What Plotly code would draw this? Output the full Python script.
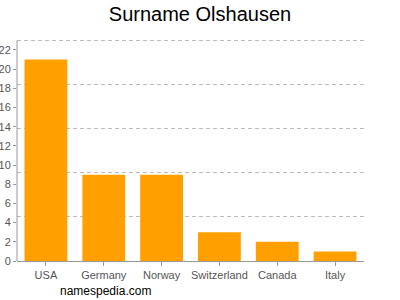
import plotly.graph_objects as go

countries = ["USA", "Germany", "Norway", "Switzerland", "Canada", "Italy"]
counts = [21, 9, 9, 3, 2, 1]
y_tick_vals = list(range(0, 23, 2))
grid_step = 4.6
y_top = 23.25

fig = go.Figure()
fig.add_trace(go.Bar(x=countries, y=counts, marker=dict(color="#ffa000", line=dict(width=0)),
                     hoverinfo="skip"))
# invisible trace to anchor gridline axis
fig.add_trace(go.Scatter(x=countries[:1], y=[0], yaxis="y2", mode="markers",
                         marker=dict(opacity=0), hoverinfo="skip", showlegend=False))

fig.update_layout(
    width=400, height=300,
    margin=dict(l=17, r=36, t=38, b=39),
    paper_bgcolor="white", plot_bgcolor="white",
    showlegend=False,
    bargap=0.26,
    title=dict(text="Surname Olshausen", x=0.5, xanchor="center", y=0.955, yanchor="middle",
               font=dict(family="Liberation Sans, Arial", size=20, color="#000")),
    xaxis=dict(showline=True, linecolor="#999", linewidth=1, ticks="outside", ticklen=4,
               tickcolor="#999", tickfont=dict(family="Liberation Sans, Arial", size=11, color="#555"),
               showgrid=False, fixedrange=True, automargin=False),
    yaxis=dict(range=[0, y_top], tickvals=y_tick_vals, showline=False, linecolor="#999", linewidth=1,
               ticks="outside", ticklen=3, tickcolor="#999", showgrid=False, zeroline=False,
               tickfont=dict(family="Liberation Sans, Arial", size=11, color="#555"),
               fixedrange=True, automargin=False),
    yaxis2=dict(range=[0, y_top], overlaying="y", tickvals=[grid_step * i for i in range(1, 6)],
                showgrid=True, gridcolor="#bbb", griddash="4px,3px", gridwidth=1, showticklabels=False,
                zeroline=False, showline=False, ticks="", fixedrange=True, automargin=False),
    annotations=[dict(text="namespedia.com", xref="paper", yref="paper", x=41/347, y=-30/223,
                      xanchor="left", yanchor="middle", showarrow=False,
                      font=dict(family="Liberation Sans, Arial", size=12, color="#000"))],
    shapes=[dict(type="line", xref="paper", yref="y", x0=0, x1=0, y0=0, y1=grid_step * 5,
                 line=dict(color="#999", width=1))],
)
fig.write_html("out.html")
